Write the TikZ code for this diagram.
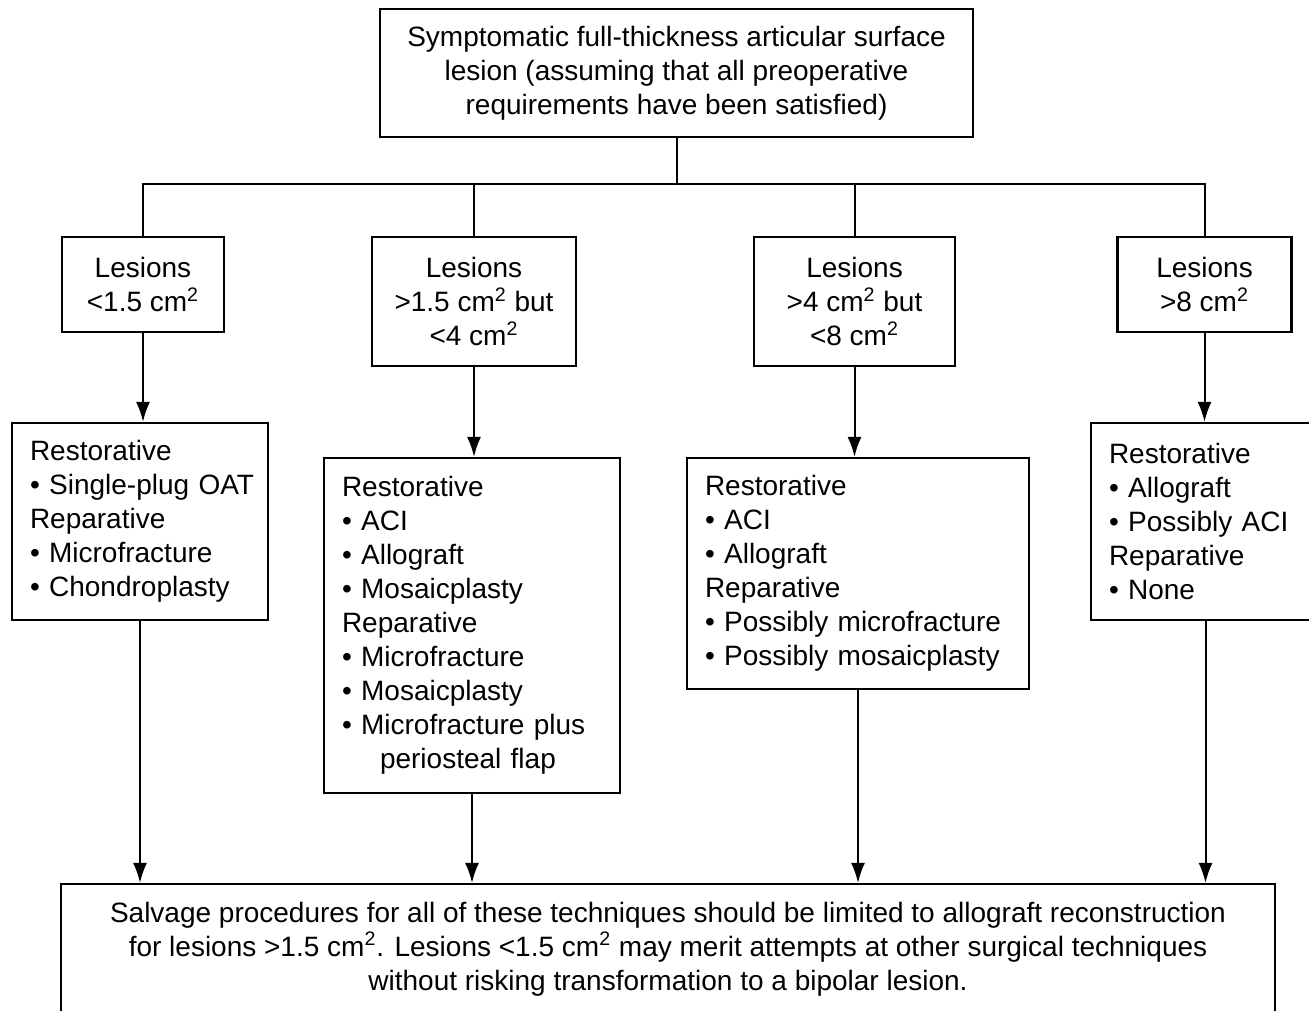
\documentclass[tikz,border=0pt]{standalone}
\usepackage{fontspec}
\setmainfont{Liberation Sans}
\usetikzlibrary{arrows.meta}
\newcommand{\itm}[1]{\mbox{\textbullet\ #1}}
\newcommand{\sq}{\textsuperscript{2}}
\tikzstyle{box}=[draw, rectangle, line width=1.1pt, inner sep=0pt, align=center, font=\fontsize{14}{17}\selectfont]
\tikzstyle{list}=[box, align=left, inner xsep=9pt]
\tikzstyle{link}=[line width=1pt]
\tikzstyle{arrow}=[link, -{Latex[length=10pt,width=7pt]}]

\begin{document}
\begin{tikzpicture}[x=0.5pt,y=-0.5pt]
  \useasboundingbox (0,0) rectangle (1309,1010);
  \clip (0,0) rectangle (1309,1010);

  \draw (676.5,73) node[box,minimum width=296.5pt,minimum height=64pt] (top) {Symptomatic full-thickness articular surface\\lesion (assuming that all preoperative\\requirements have been satisfied)};

  %% Lesion sizes
  \draw (143,284.5) node[box,minimum width=81pt,minimum height=47.5pt] (L1) {Lesions\\<1.5 cm\sq};
  \draw (474,301.5) node[box,minimum width=102pt,minimum height=64.5pt] (L2) {Lesions\\>1.5 cm\sq{} but\\<4 cm\sq};
  \draw (854.5,301.5) node[box,minimum width=100.5pt,minimum height=64.5pt] (L3) {Lesions\\>4 cm\sq{} but\\<8 cm\sq};
  \draw (1204.5,284.5) node[box,minimum width=87pt,minimum height=47.5pt] (L4) {Lesions\\>8 cm\sq};

  %% Treatments
  \draw (140,521.5) node[list,text width=110pt,minimum height=98.5pt] (T1) {Restorative\\\itm{Single-plug OAT}\\Reparative\\\itm{Microfracture}\\\itm{Chondroplasty}};
  \draw (472,625.5) node[list,text width=130pt,minimum height=167.5pt] (T2) {Restorative\\\itm{ACI}\\\itm{Allograft}\\\itm{Mosaicplasty}\\Reparative\\\itm{Microfracture}\\\itm{Mosaicplasty}\\\itm{Microfracture plus}\\\mbox{\hspace*{19pt}periosteal flap}};
  \draw (858,573.5) node[list,text width=153pt,minimum height=115.5pt] (T3) {Restorative\\\itm{ACI}\\\itm{Allograft}\\Reparative\\\itm{Possibly microfracture}\\\itm{Possibly mosaicplasty}};
  \draw (1205.5,521.5) node[list,text width=96.5pt,minimum height=98.5pt] (T4) {Restorative\\\itm{Allograft}\\\itm{Possibly ACI}\\Reparative\\\itm{None}};

  \draw (668,949) node[box,minimum width=607pt,minimum height=65pt] (salvage) {Salvage procedures for all of these techniques should be limited to allograft reconstruction\\for lesions >1.5 cm\sq. Lesions <1.5 cm\sq{} may merit attempts at other surgical techniques\\without risking transformation to a bipolar lesion.};

  %% Branching
  \coordinate (bar) at (673,184);
  \draw[link] (top.south) -- (top.south |- bar);
  \draw[link] (L1.north) |- (bar) -| (L4.north);
  \draw[link] (L2.north) -- (L2.north |- bar);
  \draw[link] (L3.north) -- (L3.north |- bar);

  \draw[arrow] (L1.south) -- (L1.south |- T1.north);
  \draw[arrow] (L2.south) -- (L2.south |- T2.north);
  \draw[arrow] (L3.south) -- (L3.south |- T3.north);
  \draw[arrow] (L4.south) -- (L4.south |- T4.north);

  \draw[arrow] (T1.south) -- (T1.south |- salvage.north);
  \draw[arrow] (T2.south) -- (T2.south |- salvage.north);
  \draw[arrow] (T3.south) -- (T3.south |- salvage.north);
  \draw[arrow] (T4.south) -- (T4.south |- salvage.north);
\end{tikzpicture}
\end{document}
